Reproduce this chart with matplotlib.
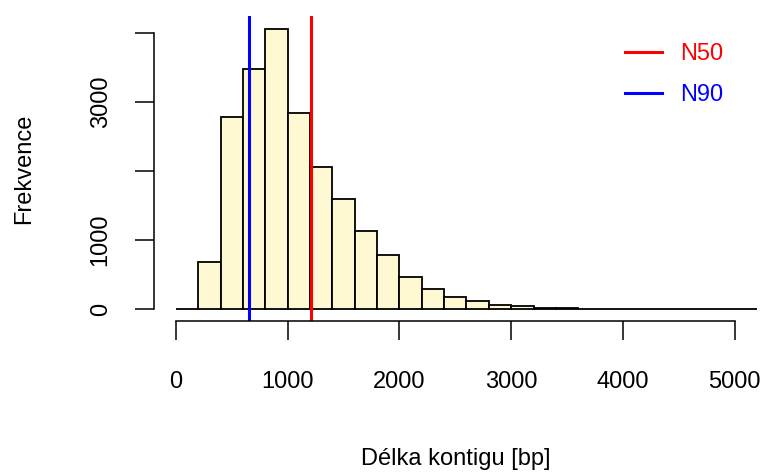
import numpy as np
import matplotlib
matplotlib.use('Agg')
import matplotlib.pyplot as plt

# Histogram of contig lengths (bin width 200 bp)
bin_edges = list(range(0, 5400, 200))
counts = [0, 690, 2780, 3475, 4050, 2835, 2060, 1590, 1130, 780,
          467, 289, 174, 116, 62, 55, 25, 20,
          8, 6, 4, 3, 2, 1, 1, 1]

# N50 / N90 values
n50 = 1207
n90 = 653

x_ticks = [0, 1000, 2000, 3000, 4000, 5000]
y_ticks = [0, 1000, 2000, 3000, 4000]
y_tick_labels = ['0', '1000', '', '3000', '']

plt.rcParams['font.family'] = ['Liberation Sans', 'DejaVu Sans']
fs = 17

fig = plt.figure(figsize=(7.6, 4.72), dpi=100)
ax = fig.add_axes([0.2022, 0.3199, 0.7938, 0.6462])

# Bars
lefts = np.array(bin_edges[:-1])
widths = np.diff(bin_edges)
ax.bar(lefts, counts, width=widths, align='edge', color='#FEF8D3',
       edgecolor='black', linewidth=1.3, clip_on=True)

# N50 and N90 lines
ax.axvline(n50, color='red', linewidth=2.2, label='N50')
ax.axvline(n90, color='blue', linewidth=2.2, label='N90')

ax.set_xlim(-200, 5200)
ax.set_ylim(-169, 4241)

# R-like axes: only spanning the tick range, no box
for s in ['top', 'right']:
    ax.spines[s].set_visible(False)
ax.spines['left'].set_bounds(0, 4000)
ax.spines['bottom'].set_bounds(0, 5000)
ax.spines['left'].set_linewidth(1.1)
ax.spines['bottom'].set_linewidth(1.1)

ax.set_xticks(x_ticks)
ax.set_xticklabels([str(v) for v in x_ticks])
ax.set_yticks(y_ticks)
ax.set_yticklabels(y_tick_labels, rotation=90, va='center')
ax.tick_params(axis='both', direction='out', length=13.7, width=1.1,
               labelsize=fs, colors='black')
ax.tick_params(axis='x', pad=22)
ax.tick_params(axis='y', pad=16.5)

ax.set_xlabel('Délka kontigu [bp]', fontsize=fs, labelpad=40)
ax.set_ylabel('Frekvence', fontsize=fs, labelpad=39.5)

leg = ax.legend(loc='upper left', bbox_to_anchor=(625.0 / 760, 1 - 43.0 / 472),
                bbox_transform=fig.transFigure, frameon=False, fontsize=fs,
                handlelength=1.55, handletextpad=0.8, labelspacing=0.8,
                borderpad=0, borderaxespad=0, labelcolor='linecolor')

fig.savefig('out.png', dpi=100)
